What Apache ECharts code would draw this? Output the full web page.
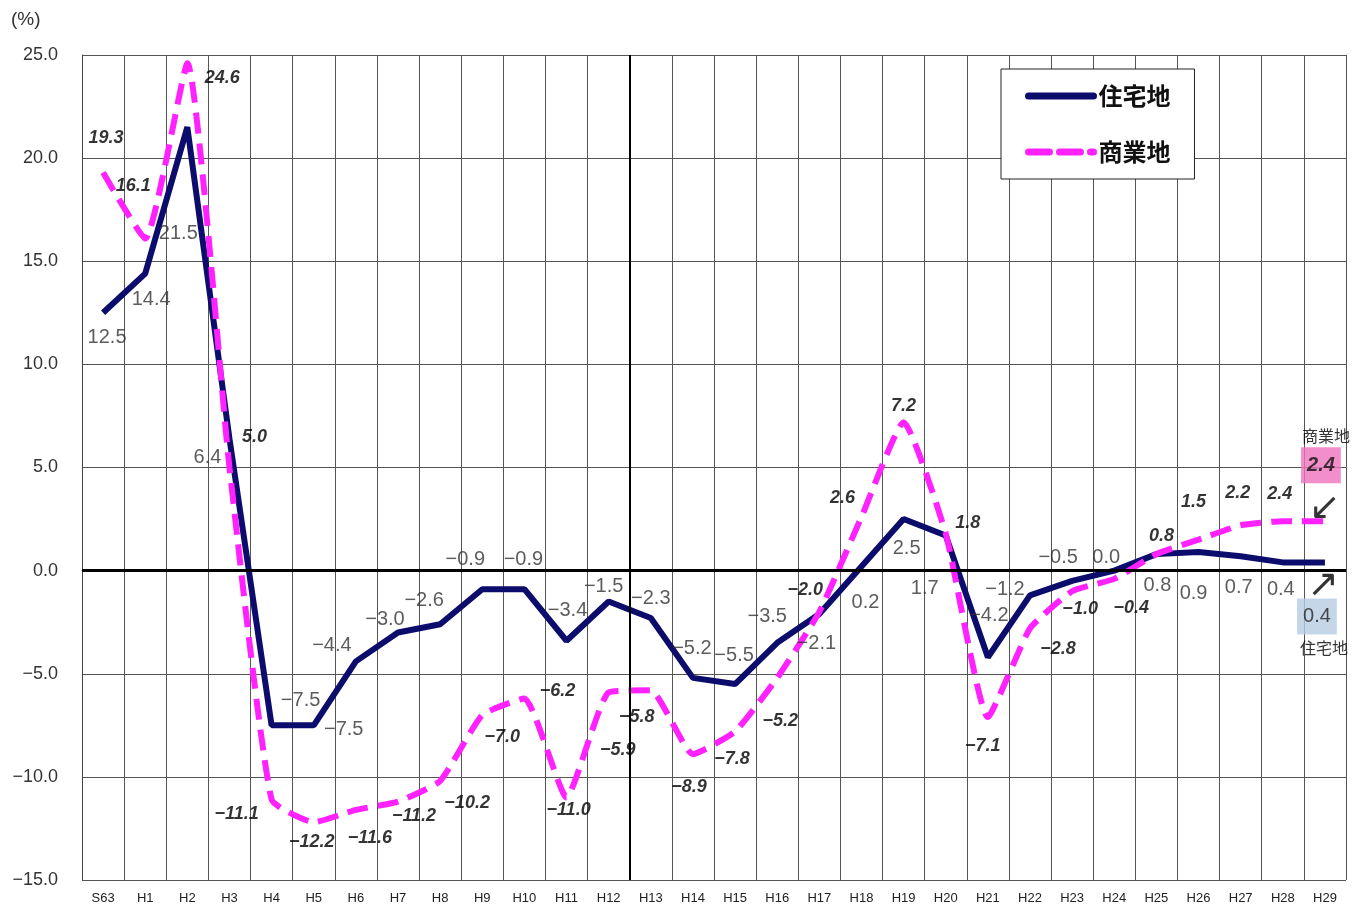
<!DOCTYPE html>
<html><head><meta charset="utf-8">
<script src="https://cdn.jsdelivr.net/npm/echarts@6/dist/echarts.min.js"></script>
<style>html,body{margin:0;padding:0;background:#fff}#c{width:1365px;height:912px}</style>
</head><body><div id="c"></div>
<script>
const categories = ['S63','H1','H2','H3','H4','H5','H6','H7','H8','H9','H10','H11','H12','H13','H14','H15','H16','H17','H18','H19','H20','H21','H22','H23','H24','H25','H26','H27','H28','H29'];
const residential = [12.5,14.4,21.5,6.4,-7.5,-7.5,-4.4,-3.0,-2.6,-0.9,-0.9,-3.4,-1.5,-2.3,-5.2,-5.5,-3.5,-2.1,0.2,2.5,1.7,-4.2,-1.2,-0.5,0.0,0.8,0.9,0.7,0.4,0.4];
const commercial = [19.3,16.1,24.6,5.0,-11.1,-12.2,-11.6,-11.2,-10.2,-7.0,-6.2,-11.0,-5.9,-5.8,-8.9,-7.8,-5.2,-2.0,2.6,7.2,1.8,-7.1,-2.8,-1.0,-0.4,0.8,1.5,2.2,2.4,2.4];
const seriesNames = ['住宅地','商業地'];
const yMin = -15, yMax = 25, yStep = 5;
const dividerBoundary = 13; // boundary (in category slots) between H12 and H13

// label offsets (pixels) for each point's value label
const resOffsets = [[4,25],[6,26],[-9,106],[-22,19],[29,-25],[30,4],[-24,-16],[-13,-13],[-16,-24],[-17,-30],[-1,-30],[1,-30],[-5,-15],[0,-20],[-1,-29],[-1,-29],[-10,-26],[-3,30],[4,36],[3,29],[-21,53],[1,-42],[-25,-6],[-14,-23],[-8,-13],[1,31],[-5,41],[-2,31],[-2,27]];
const comOffsets = [[3,-35],[-12,-53],[35,15],[25,-30],[-35,14],[-2,20],[14,28],[16,14],[27,22],[20,22],[33,-7],[2,13],[9,58],[-14,27],[-4,33],[-3,28],[3,43],[-14,-22],[-19,-19],[0,-16],[22,-10],[-5,29],[28,21],[8,18],[17,29],[5,-18],[-5,-38],[-3,-32],[-3,-27]];

const NAVY = '#0c0c6c', PINK = '#ff22ff';
const numFont = 'Liberation Sans';
const jpFont = 'Noto Sans CJK JP';
const fmt = v => v.toFixed(1).replace('-', '\u2212');

const last = categories.length - 1;
const resLabelData = resOffsets.map((o,i)=>({value:[i,residential[i]],label:{offset:o}}));
resLabelData.push(
  {value:[last,residential[last]],label:{offset:[-2,24],formatter:'↗',fontSize:38,fontFamily:'DejaVu Sans',color:'#000'}},
  {value:[last,residential[last]],label:{offset:[-8,54],backgroundColor:'#b8cce4',padding:[8,6,8,6],fontSize:20,color:'#222'}},
  {value:[last,residential[last]],label:{offset:[-1,86],formatter:seriesNames[0],fontSize:16,fontFamily:jpFont,color:'#000'}}
);
const comLabelData = comOffsets.map((o,i)=>({value:[i,commercial[i]],label:{offset:o}}));
comLabelData.push(
  {value:[last,commercial[last]],label:{offset:[0,-12],formatter:'↙',fontSize:38,fontFamily:'DejaVu Sans',fontStyle:'normal',fontWeight:'normal',color:'#000'}},
  {value:[last,commercial[last]],label:{offset:[-4,-56],backgroundColor:'#ef72bd',padding:[8,6,8,6],fontSize:20,color:'#111'}},
  {value:[last,commercial[last]],label:{offset:[1,-85],formatter:seriesNames[1],fontSize:16,fontFamily:jpFont,fontStyle:'normal',fontWeight:'normal',color:'#000'}}
);

const chart = echarts.init(document.getElementById('c'));
chart.setOption({
  animation:false,
  backgroundColor:'#fff',
  title:{text:'(%)',left:6,top:5,textStyle:{fontSize:19,fontWeight:'normal',color:'#333',fontFamily:numFont}},
  grid:{left:82,right:19,top:55,bottom:32},
  legend:{
    data:seriesNames, orient:'vertical', left:1001, top:69,
    itemWidth:65, itemHeight:24, itemGap:32, padding:[15,24,15,24],
    borderColor:'#222', borderWidth:1, backgroundColor:'#fff',
    itemStyle:{opacity:0},
    lineStyle:{width:7,cap:'round'},
    textStyle:{fontSize:24,fontFamily:jpFont,fontWeight:'bold',color:'#111'}
  },
  xAxis:[{
    type:'category', data:categories, boundaryGap:true,
    axisLine:{lineStyle:{color:'#444',width:1}},
    axisTick:{show:false},
    axisLabel:{interval:0,fontSize:13,color:'#222',margin:12,fontFamily:numFont},
    splitLine:{show:false}
  },{
    // slot axis: one unit per category, used only for the vertical grid lines
    type:'value', min:0, max:categories.length, interval:1, position:'bottom',
    axisLine:{show:false}, axisTick:{show:false}, axisLabel:{show:false},
    splitLine:{show:true,lineStyle:{color:'#555',width:1}}
  }],
  yAxis:{
    type:'value', min:yMin, max:yMax, interval:yStep,
    axisLine:{show:true,lineStyle:{color:'#444'}},
    axisTick:{show:false},
    axisLabel:{formatter:fmt,fontSize:18,color:'#333',margin:24,fontFamily:numFont},
    splitLine:{lineStyle:{color:'#555',width:1}}
  },
  series:[
    {name:seriesNames[0],type:'line',data:residential,symbol:'none',z:3,
     lineStyle:{color:NAVY,width:6},itemStyle:{color:NAVY},
     markLine:{silent:true,symbol:'none',label:{show:false},lineStyle:{color:'#000',width:3,type:'solid'},data:[{yAxis:0}]}},
    {name:seriesNames[1],type:'line',data:commercial,symbol:'none',z:4,smooth:0.15,
     lineStyle:{color:PINK,width:6,type:[21,10]},itemStyle:{color:PINK}},
    {name:'divider',type:'line',xAxisIndex:1,data:[],z:2,
     markLine:{silent:true,symbol:'none',label:{show:false},lineStyle:{color:'#000',width:2,type:'solid'},data:[{xAxis:dividerBoundary}]}},
    {name:'resLabels',type:'scatter',data:resLabelData,symbolSize:1,z:5,silent:true,
     itemStyle:{color:'rgba(0,0,0,0)'},
     label:{show:true,position:'inside',formatter:p=>fmt(p.value[1]),fontSize:20,fontFamily:numFont,color:'#333'}},
    {name:'comLabels',type:'scatter',data:comLabelData,symbolSize:1,z:5,silent:true,
     itemStyle:{color:'rgba(0,0,0,0)'},
     label:{show:true,position:'inside',formatter:p=>fmt(p.value[1]),fontSize:18,fontStyle:'italic',fontWeight:'bold',fontFamily:numFont,color:'#000'}}
  ]
});
</script></body></html>
